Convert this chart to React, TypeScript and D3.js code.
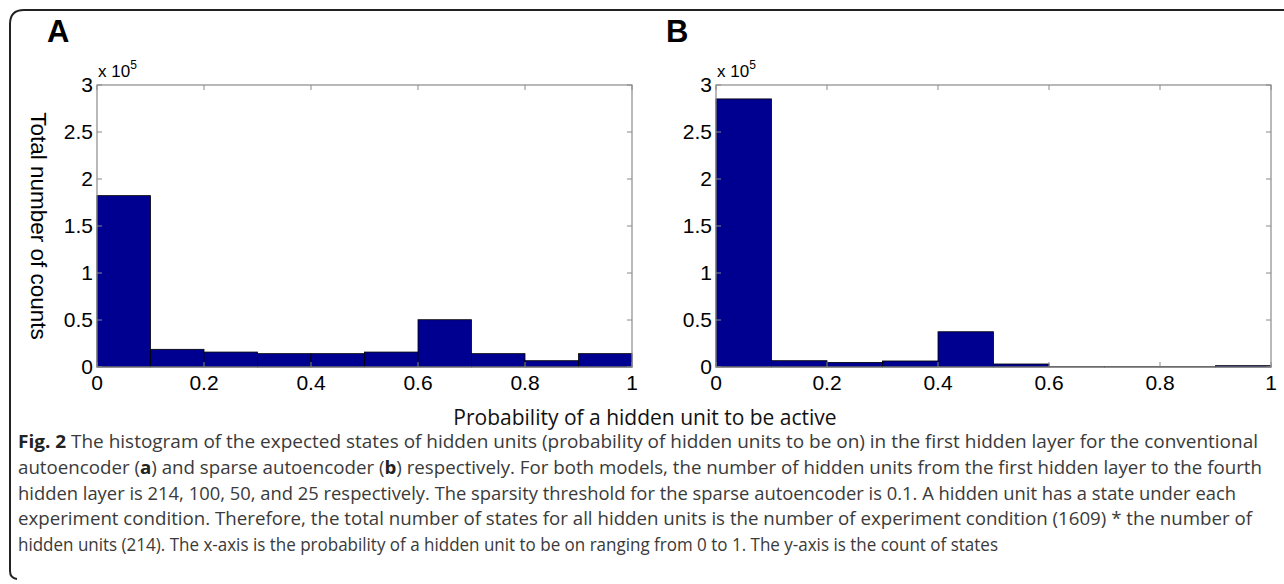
import * as d3 from "d3";

// bin edges of the histograms (probability of a hidden unit to be active)
const binEdges = [0, 0.1, 0.2, 0.3, 0.4, 0.5, 0.6, 0.7, 0.8, 0.9, 1];
// counts in units of 1e5
const countsA = [1.823, 0.188, 0.159, 0.142, 0.142, 0.159, 0.503, 0.142, 0.067, 0.142];
const countsB = [2.852, 0.067, 0.049, 0.064, 0.375, 0.032, 0.003, 0.003, 0.003, 0.014];
const xTicks = [0, 0.2, 0.4, 0.6, 0.8, 1];
const yTicks = [0, 0.5, 1, 1.5, 2, 2.5, 3];

const yLabel = "Total number of counts";
const xLabel = "Probability of a hidden unit to be active";

const captionLines: { parts: { t: string; b?: boolean }[]; w?: number }[] = [
  {
    parts: [
      { t: "Fig. 2", b: true },
      { t: " The histogram of the expected states of hidden units (probability of hidden units to be on) in the first hidden layer for the conventional" },
    ],
    w: 1240,
  },
  {
    parts: [
      { t: "autoencoder (" },
      { t: "a", b: true },
      { t: ") and sparse autoencoder (" },
      { t: "b", b: true },
      { t: ") respectively. For both models, the number of hidden units from the first hidden layer to the fourth" },
    ],
    w: 1244,
  },
  {
    parts: [{ t: "hidden layer is 214, 100, 50, and 25 respectively. The sparsity threshold for the sparse autoencoder is 0.1. A hidden unit has a state under each" }],
    w: 1218,
  },
  {
    parts: [{ t: "experiment condition. Therefore, the total number of states for all hidden units is the number of experiment condition (1609) * the number of" }],
    w: 1234,
  },
  {
    parts: [{ t: "hidden units (214). The x-axis is the probability of a hidden unit to be on ranging from 0 to 1. The y-axis is the count of states" }],
    w: 980,
  },
];

const W = 1284;
const H = 584;
const top = 85;
const bottom = 367;
const barFill = "#000090";
const axisColor = "#8a8a8a";
const tickFont = "'Liberation Sans', Arial, sans-serif";
const captionFont = "'Open Sans', 'Noto Sans', sans-serif";

function Panel({
  left,
  right,
  counts,
  letter,
}: {
  left: number;
  right: number;
  counts: number[];
  letter: string;
}) {
  const x = d3.scaleLinear().domain([0, 1]).range([left, right]);
  const y = d3.scaleLinear().domain([0, 3]).range([bottom, top]);
  const bins = counts.map((c, i) => ({ x0: binEdges[i], x1: binEdges[i + 1], c }));
  const tl = 5;
  return (
    <g>
      <text x={left - 50} y={42} fontFamily={tickFont} fontWeight="bold" fontSize={31} fill="#000">
        {letter}
      </text>
      {bins.map((b, i) => (
        <rect
          key={i}
          x={x(b.x0)}
          y={y(b.c)}
          width={x(b.x1) - x(b.x0)}
          height={y(0) - y(b.c)}
          fill={barFill}
          stroke="#000"
          strokeWidth={0.8}
        />
      ))}
      <rect x={left} y={top} width={right - left} height={bottom - top} fill="none" stroke={axisColor} strokeWidth={1.2} />
      {xTicks.map((t) => (
        <g key={"x" + t}>
          <line x1={x(t)} x2={x(t)} y1={bottom} y2={bottom - tl} stroke={axisColor} />
          <line x1={x(t)} x2={x(t)} y1={top} y2={top + tl} stroke={axisColor} />
          <text x={x(t)} y={bottom + 23} textAnchor="middle" fontFamily={tickFont} fontSize={21} fill="#000">
            {d3.format("~g")(t)}
          </text>
        </g>
      ))}
      {yTicks.map((t) => (
        <g key={"y" + t}>
          <line x1={left} x2={left + tl} y1={y(t)} y2={y(t)} stroke={axisColor} />
          <line x1={right} x2={right - tl} y1={y(t)} y2={y(t)} stroke={axisColor} />
          <text x={left - 4} y={y(t) + 7} textAnchor="end" fontFamily={tickFont} fontSize={21} fill="#000">
            {d3.format("~g")(t)}
          </text>
        </g>
      ))}
      <text x={left + 1} y={top - 8} fontFamily={tickFont} fontSize={17} fill="#000">
        x 10
        <tspan fontSize={12} dy={-8}>
          5
        </tspan>
      </text>
    </g>
  );
}

export default function App() {
  const captionTop = 441;
  const lineH = 25.8;
  return (
    <svg
      width={W}
      height={H}
      style={{ position: "absolute", left: 0, top: 0, display: "block", background: "#fff" }}
    >
      <rect width={W} height={H} fill="#fff" />
      <path
        d="M 17 579 Q 10 578 10 571 L 10 24 Q 10 10 24 10 L 1284 10"
        fill="none"
        stroke="#222"
        strokeWidth={2}
      />
      <Panel left={97} right={632} counts={countsA} letter="A" />
      <Panel left={716} right={1271} counts={countsB} letter="B" />
      <text
        transform={`translate(31,226) rotate(90)`}
        textAnchor="middle"
        fontFamily={tickFont}
        fontSize={22.5}
        fill="#000"
      >
        {yLabel}
      </text>
      <text x={645} y={425} textAnchor="middle" fontFamily={captionFont} fontSize={21} fill="#111">
        {xLabel}
      </text>
      {captionLines.map((ln, i) => (
        <text
          key={i}
          x={18}
          y={captionTop + i * lineH + 7}
          fontFamily={captionFont}
          fontSize={18}
          fill="#3a3a3a"
          textLength={ln.w}
          lengthAdjust="spacingAndGlyphs"
        >
          {ln.parts.map((p, j) => (
            <tspan key={j} fontWeight={p.b ? "bold" : "normal"} fill={p.b ? "#222" : "#3a3a3a"}>
              {p.t}
            </tspan>
          ))}
        </text>
      ))}
    </svg>
  );
}
